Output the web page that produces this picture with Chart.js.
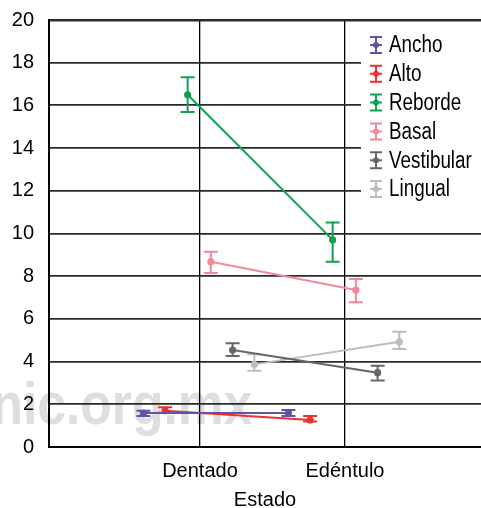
<!DOCTYPE html>
<html>
<head>
<meta charset="utf-8">
<script src="https://cdn.jsdelivr.net/npm/chart.js@4"></script>
<style>
  body { margin: 0; background: #fff; }
  canvas { display: block; }
</style>
</head>
<body>
<canvas id="chart" width="481" height="508"></canvas>
<script>
// data
const categories = ['Dentado', 'Edéntulo'];
const seriesNames = ['Ancho', 'Alto', 'Reborde', 'Basal', 'Vestibular', 'Lingual'];
const meanDentado  = [1.59, 1.70, 16.50, 8.68, 4.54, 3.87];
const meanEdentulo = [1.59, 1.26,  9.70, 7.35, 3.48, 4.93];
const lowDentado   = [1.45, 1.61, 15.69, 8.15, 4.26, 3.57];
const highDentado  = [1.70, 1.86, 17.32, 9.15, 4.86, 4.34];
const lowEdentulo  = [1.45, 1.19,  8.68, 6.78, 3.11, 4.59];
const highEdentulo = [1.73, 1.45, 10.52, 7.87, 3.81, 5.40];
const yTicks = [0, 2, 4, 6, 8, 10, 12, 14, 16, 18, 20];

const colors = ['#6650a8', '#e8332c', '#13a04f', '#f2899a', '#666666', '#bdbdbd'];
const dodge = [-0.39, -0.24, -0.085, 0.075, 0.225, 0.375];
const FONT = '"Liberation Sans", Arial, sans-serif';

const means = [meanDentado, meanEdentulo];
const lows = [lowDentado, lowEdentulo];
const highs = [highDentado, highEdentulo];

const datasets = seriesNames.map((name, i) => ({
    label: name,
    data: categories.map((c, j) => ({ x: j + 1 + dodge[i], y: means[j][i] })),
    borderColor: colors[i],
    backgroundColor: colors[i],
    borderWidth: 2,
    pointRadius: 2.6,
    pointHoverRadius: 2.6,
    fill: false
}));

// error bars under the lines
const errorBars = {
    id: 'errorBars',
    beforeDatasetsDraw(chart) {
        const ctx = chart.ctx;
        const xs = chart.scales.x, ys = chart.scales.y;
        ctx.save();
        seriesNames.forEach((name, i) => {
            categories.forEach((c, j) => {
                const x = xs.getPixelForValue(j + 1 + dodge[i]);
                const y1 = ys.getPixelForValue(lows[j][i]);
                const y2 = ys.getPixelForValue(highs[j][i]);
                ctx.strokeStyle = colors[i];
                ctx.lineWidth = 2;
                ctx.beginPath();
                ctx.moveTo(x, y1); ctx.lineTo(x, y2);
                ctx.moveTo(x - 7, y1); ctx.lineTo(x + 7, y1);
                ctx.moveTo(x - 7, y2); ctx.lineTo(x + 7, y2);
                ctx.stroke();
            });
        });
        ctx.restore();
    }
};

// watermark behind everything (narrow look = squeezed Liberation Sans)
const watermark = {
    id: 'watermark',
    beforeDraw(chart) {
        const ctx = chart.ctx;
        ctx.save();
        ctx.scale(0.86, 1);
        ctx.fillStyle = 'rgba(200,200,204,0.6)';
        ctx.font = 'bold 60px ' + FONT;
        ctx.textBaseline = 'alphabetic';
        ctx.fillText('nic.org.mx', -10, 424);
        ctx.restore();
    }
};

// legend box inside the plot, top right
const boxLegend = {
    id: 'boxLegend',
    afterDraw(chart) {
        const ctx = chart.ctx;
        ctx.save();
        ctx.fillStyle = '#fff';
        ctx.fillRect(361, 22, 120, 186);
        seriesNames.forEach((name, i) => {
            const cy = 45 + i * 28.8;
            const cx = 376;
            ctx.strokeStyle = colors[i];
            ctx.fillStyle = colors[i];
            ctx.lineWidth = 2;
            ctx.beginPath();
            ctx.moveTo(cx, cy - 8); ctx.lineTo(cx, cy + 8);
            ctx.moveTo(cx - 6, cy - 8); ctx.lineTo(cx + 6, cy - 8);
            ctx.moveTo(cx - 6, cy + 8); ctx.lineTo(cx + 6, cy + 8);
            ctx.moveTo(cx - 6, cy); ctx.lineTo(cx + 6, cy);
            ctx.stroke();
            ctx.beginPath();
            ctx.arc(cx, cy, 3, 0, Math.PI * 2);
            ctx.fill();
            ctx.save();
            ctx.translate(389, cy + 1);
            ctx.scale(0.82, 1);
            ctx.fillStyle = '#000';
            ctx.font = '23px ' + FONT;
            ctx.textBaseline = 'middle';
            ctx.fillText(name, 0, 0);
            ctx.restore();
        });
        ctx.restore();
    }
};

new Chart(document.getElementById('chart'), {
    type: 'line',
    data: { datasets: datasets },
    plugins: [watermark, errorBars, boxLegend],
    options: {
        responsive: false,
        animation: false,
        layout: { autoPadding: false, padding: { top: 20, right: 0, left: 0, bottom: 0 } },
        plugins: { legend: { display: false }, tooltip: { enabled: false } },
        scales: {
            x: {
                type: 'linear',
                min: -0.041,
                max: 2.938,
                afterBuildTicks(scale) { scale.ticks = [{ value: 1 }, { value: 2 }]; },
                afterFit(scale) {
                    scale.height = 61;
                    scale.paddingLeft = 0; scale.paddingRight = 0;
                },
                ticks: {
                    color: '#000',
                    font: { family: FONT, size: 20 },
                    padding: 12,
                    maxRotation: 0,
                    autoSkip: false,
                    callback: (v) => categories[Math.round(v) - 1]
                },
                grid: { color: '#000', lineWidth: 1.3, drawTicks: false },
                border: { color: '#000', width: 2 },
                title: {
                    display: true,
                    text: 'Estado',
                    color: '#000',
                    font: { family: FONT, size: 20, lineHeight: 0.8 },
                    padding: { top: 0, bottom: 0 }
                }
            },
            y: {
                min: 0,
                max: 20,
                afterBuildTicks(scale) { scale.ticks = yTicks.map(v => ({ value: v })); },
                afterFit(scale) {
                    scale.width = 49;
                    scale.paddingTop = 0; scale.paddingBottom = 0;
                },
                ticks: {
                    color: '#000',
                    font: { family: FONT, size: 20 },
                    padding: 15
                },
                grid: {
                    color: '#2a2a2a',
                    lineWidth: (c) => c.tick && c.tick.value === 20 ? 2.5 : 1.8,
                    drawTicks: false
                },
                border: { color: '#000', width: 2 }
            }
        }
    }
});
</script>
</body>
</html>
